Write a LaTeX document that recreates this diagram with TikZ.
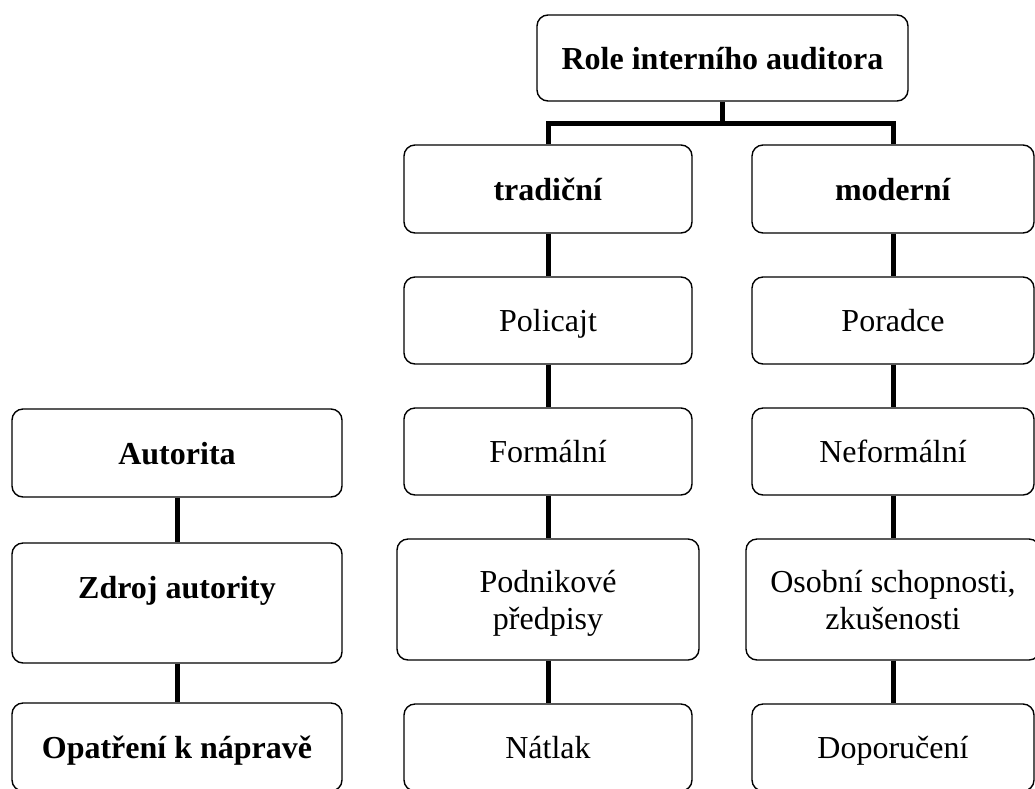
\documentclass[tikz,border=0pt]{standalone}
\usepackage{fontspec}
\setmainfont{Liberation Serif}
\usetikzlibrary{positioning, calc}

\begin{document}
\begin{tikzpicture}[x=1pt, y=-1pt,
        box/.style={draw, line width=1.4pt, rounded corners=11pt, align=center, inner sep=0pt,
            text height=22pt, text depth=0pt,
            minimum width=288pt, minimum height=87pt, font=\fontsize{32}{37}\selectfont},
        twoline/.style={text height=59pt, minimum height=121pt},
        conn/.style={line width=5pt}]
                \useasboundingbox (0,0) rectangle (1035,788);
                \clip (0,0) rectangle (1035,788);
                % top of the tree
                \node[box, minimum width=371pt, minimum height=86pt] (role) at (722.5,58) {\textbf{Role interního auditora}};
                \node[box, minimum height=88pt] (trad) at (548,189) {\textbf{tradiční}};
                \node[box, minimum width=282pt, minimum height=88pt] (mod) at (893,189) {\textbf{moderní}};
                \draw[conn] (trad.north) -- ++(0,-21) -| (role.south);
                \draw[conn] (mod.north) -- ++(0,-21) -| (role.south);
                % traditional column
                \node[box] (pol) at (548,320.5) {Policajt};
                \node[box] (form) at (548,451.5) {Formální};
                \node[box, twoline, minimum width=302pt] (podn) at (548,599.5) {Podnikové\\předpisy};
                \node[box] (natl) at (548,747.5) {Nátlak};
                \draw[conn] (trad) -- (pol);
                \draw[conn] (pol) -- (form);
                \draw[conn] (form) -- (podn);
                \draw[conn] (podn) -- (natl);
                % modern column
                \node[box, minimum width=282pt] (por) at (893,320.5) {Poradce};
                \node[box, minimum width=282pt] (neform) at (893,451.5) {Neformální};
                \node[box, twoline, minimum width=294pt] (osob) at (893,599.5) {Osobní schopnosti,\\zkušenosti};
                \node[box, minimum width=282pt] (dopor) at (893,747.5) {Doporučení};
                \draw[conn] (mod) -- (por);
                \draw[conn] (por) -- (neform);
                \draw[conn] (neform) -- (osob);
                \draw[conn] (osob) -- (dopor);
                % legend column
                \node[box, minimum width=330pt, minimum height=88pt] (aut) at (177,453) {\textbf{Autorita}};
                \node[box, minimum width=330pt, minimum height=120pt, text depth=32pt] (zdroj) at (177,603) {\textbf{Zdroj autority}};
                \node[box, minimum width=330pt, minimum height=88pt] (opat) at (177,747) {\textbf{Opatření k nápravě}};
                \draw[conn] (aut) -- (zdroj);
                \draw[conn] (zdroj) -- (opat);
            \end{tikzpicture}
\end{document}
